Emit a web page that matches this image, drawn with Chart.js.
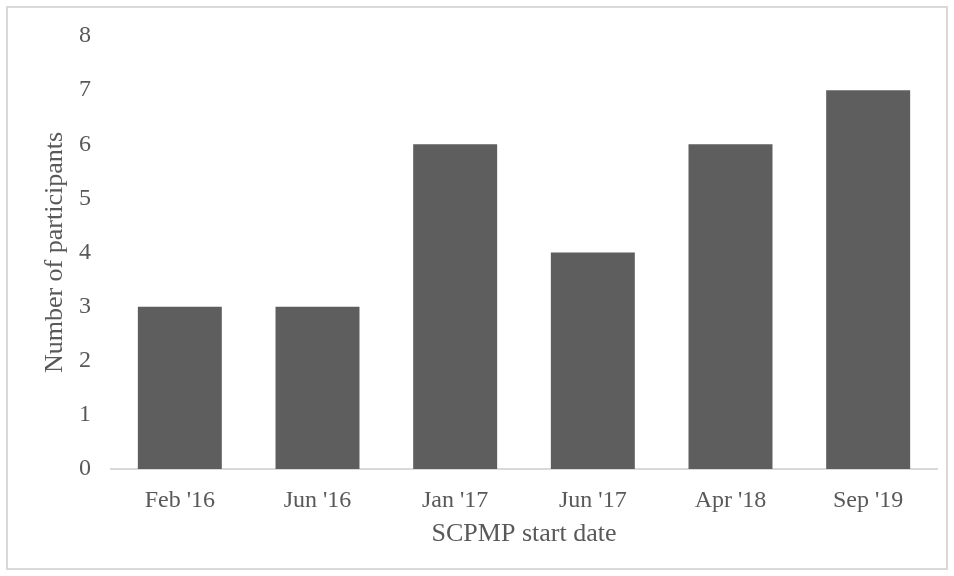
<!DOCTYPE html>
<html><head><meta charset="utf-8">
<script src="https://cdn.jsdelivr.net/npm/chart.js@4"></script>
<style>html,body{margin:0;padding:0;background:#fff}#wrap{width:954px;height:576px}</style>
</head><body><div id="wrap"><canvas id="c" width="954" height="576"></canvas></div>
<script>
const categories = ["Feb '16", "Jun '16", "Jan '17", "Jun '17", "Apr '18", "Sep '19"];
const participants = [3, 3, 6, 4, 6, 7];
const yTicks = [0, 1, 2, 3, 4, 5, 6, 7, 8];
const xTitle = "SCPMP start date";
const yTitle = "Number of participants";

const FONT = "'Liberation Serif', 'Times New Roman', serif";
const borderPlugin = {
  id: 'frame',
  beforeDraw(chart) {
    const ctx = chart.ctx;
    ctx.save();
    ctx.fillStyle = '#fff';
    ctx.fillRect(0, 0, chart.width, chart.height);
    ctx.strokeStyle = '#d9d9d9';
    ctx.lineWidth = 2;
    ctx.strokeRect(7, 7, chart.width - 14, chart.height - 14);
    ctx.restore();
  }
};
new Chart(document.getElementById('c'), {
  type: 'bar',
  data: { labels: categories, datasets: [{ data: participants, backgroundColor: '#5e5e5e', barPercentage: 0.61, categoryPercentage: 1 }] },
  options: {
    responsive: false, animation: false,
    layout: { padding: { top: 36, right: 17, left: 40, bottom: 22 } },
    plugins: { legend: { display: false }, tooltip: { enabled: false } },
    scales: {
      x: {
        grid: { display: false, drawTicks: false },
        border: { color: '#d9d9d9', width: 2 },
        ticks: { color: '#595959', font: { family: FONT, size: 24 }, padding: 17 },
        title: { display: true, text: xTitle, color: '#595959', font: { family: FONT, size: 26 }, padding: { top: 0 } },
        afterFit(s) { s.height = 85; }
      },
      y: {
        min: 0, max: 8,
        afterBuildTicks(s) { s.ticks = yTicks.map(v => ({ value: v })); },
        grid: { display: false, drawTicks: false },
        border: { display: false },
        ticks: { color: '#595959', font: { family: FONT, size: 24 }, padding: 20 },
        title: { display: true, text: yTitle, color: '#595959', font: { family: FONT, size: 26 }, padding: { top: 0, bottom: 0 } },
        afterFit(s) { s.width = 71; }
      }
    }
  },
  plugins: [borderPlugin]
});
</script></body></html>
